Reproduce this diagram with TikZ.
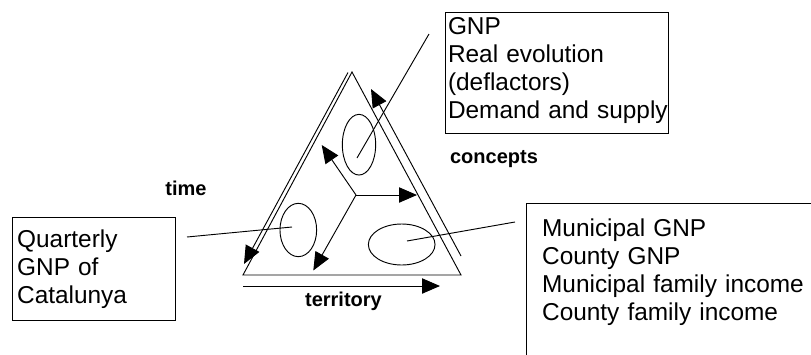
\documentclass[tikz,border=0pt]{standalone}
\usepackage{fontspec}
\setmainfont{Liberation Sans}
\usetikzlibrary{arrows.meta, shapes.geometric}

\tikzset{
  infobox/.style={draw, anchor=north west, align=left, font=\fontsize{18.3pt}{21pt}\selectfont},
  axislabel/.style={anchor=base, inner sep=0pt, font=\fontsize{15pt}{18pt}\selectfont\bfseries},
  blob/.style={draw, ellipse, inner sep=0pt},
  bigtip/.style={-{Triangle[length=13.5pt, width=11.5pt]}}
}

\begin{document}
\begin{tikzpicture}[x=0.75pt, y=-0.75pt, line width=0.7pt]
  % Page frame
  \useasboundingbox (0,0) rectangle (811,354);
  \clip (0,0) rectangle (811,354);

  % The triangle
  \coordinate (apex) at (352,72);
  \coordinate (bottomleft) at (243,275);
  \coordinate (bottomright) at (461,275);
  \draw (apex) -- (bottomleft) -- (bottomright) -- cycle;

  % Arrows along the sides
  \coordinate (timestart) at (348,72.5);
  \coordinate (timeend) at (244,264);
  \draw[bigtip] (timestart) -- (timeend);
  \coordinate (conceptsstart) at (461,256);
  \coordinate (conceptsend) at (371,89);
  \draw[bigtip] (conceptsstart) -- (conceptsend);
  \coordinate (territorystart) at (243,286);
  \coordinate (territoryend) at (440,286);
  \draw[bigtip] (territorystart) -- (territoryend);

  % Side labels
  \node[axislabel] (timelabel) at (186,195) {time};
  \node[axislabel] (conceptslabel) at (494,163) {concepts};
  \node[axislabel] (territorylabel) at (343.5,306.5) {territory};

  % Arrows from the middle
  \coordinate (hub) at (356,195);
  \coordinate (hubright) at (417,195);
  \coordinate (hubup) at (321.7,145);
  \coordinate (hubdown) at (313.3,270.5);
  \draw[bigtip] (hub) -- (hubright);
  \draw[bigtip] (hub) -- (hubup);
  \draw[bigtip] (hub) -- (hubdown);

  % Ellipses
  \node[blob, minimum width=25pt, minimum height=45.5pt] (conceptsblob) at (359,144.7) {};
  \node[blob, minimum width=27.5pt, minimum height=40pt] (timeblob) at (298.3,230) {};
  \node[blob, minimum width=50pt, minimum height=30.75pt] (territoryblob) at (401.7,244.5) {};

  % Text boxes
  \node[infobox, inner xsep=1.9pt, inner ysep=3.75pt, text width=163.5pt, text depth=71pt] (conceptsbox) at (445,11.7)
    {GNP\\Real evolution\\(deflactors)\\\mbox{Demand and supply}};
  \node[infobox, inner xsep=3.75pt, inner ysep=9pt, text width=115pt, text depth=45.4pt] (timebox) at (11.7,217.3)
    {Quarterly\\GNP of\\Catalunya};
  \node[infobox, inner xsep=11.75pt, inner ysep=11.5pt, text width=260pt, text depth=150pt] (territorybox) at (526,203)
    {Municipal GNP\\County GNP\\Municipal family income\\County family income};

  % Pointers from boxes to ellipses
  \coordinate (conceptsfree) at (429,34);
  \coordinate (conceptspin) at (357,158);
  \draw (conceptsfree) -- (conceptspin);
  \coordinate (timefree) at (187,237);
  \coordinate (timepin) at (292,227);
  \draw (timefree) -- (timepin);
  \coordinate (territoryfree) at (515,222);
  \coordinate (territorypin) at (407,241);
  \draw (territoryfree) -- (territorypin);
\end{tikzpicture}
\end{document}
